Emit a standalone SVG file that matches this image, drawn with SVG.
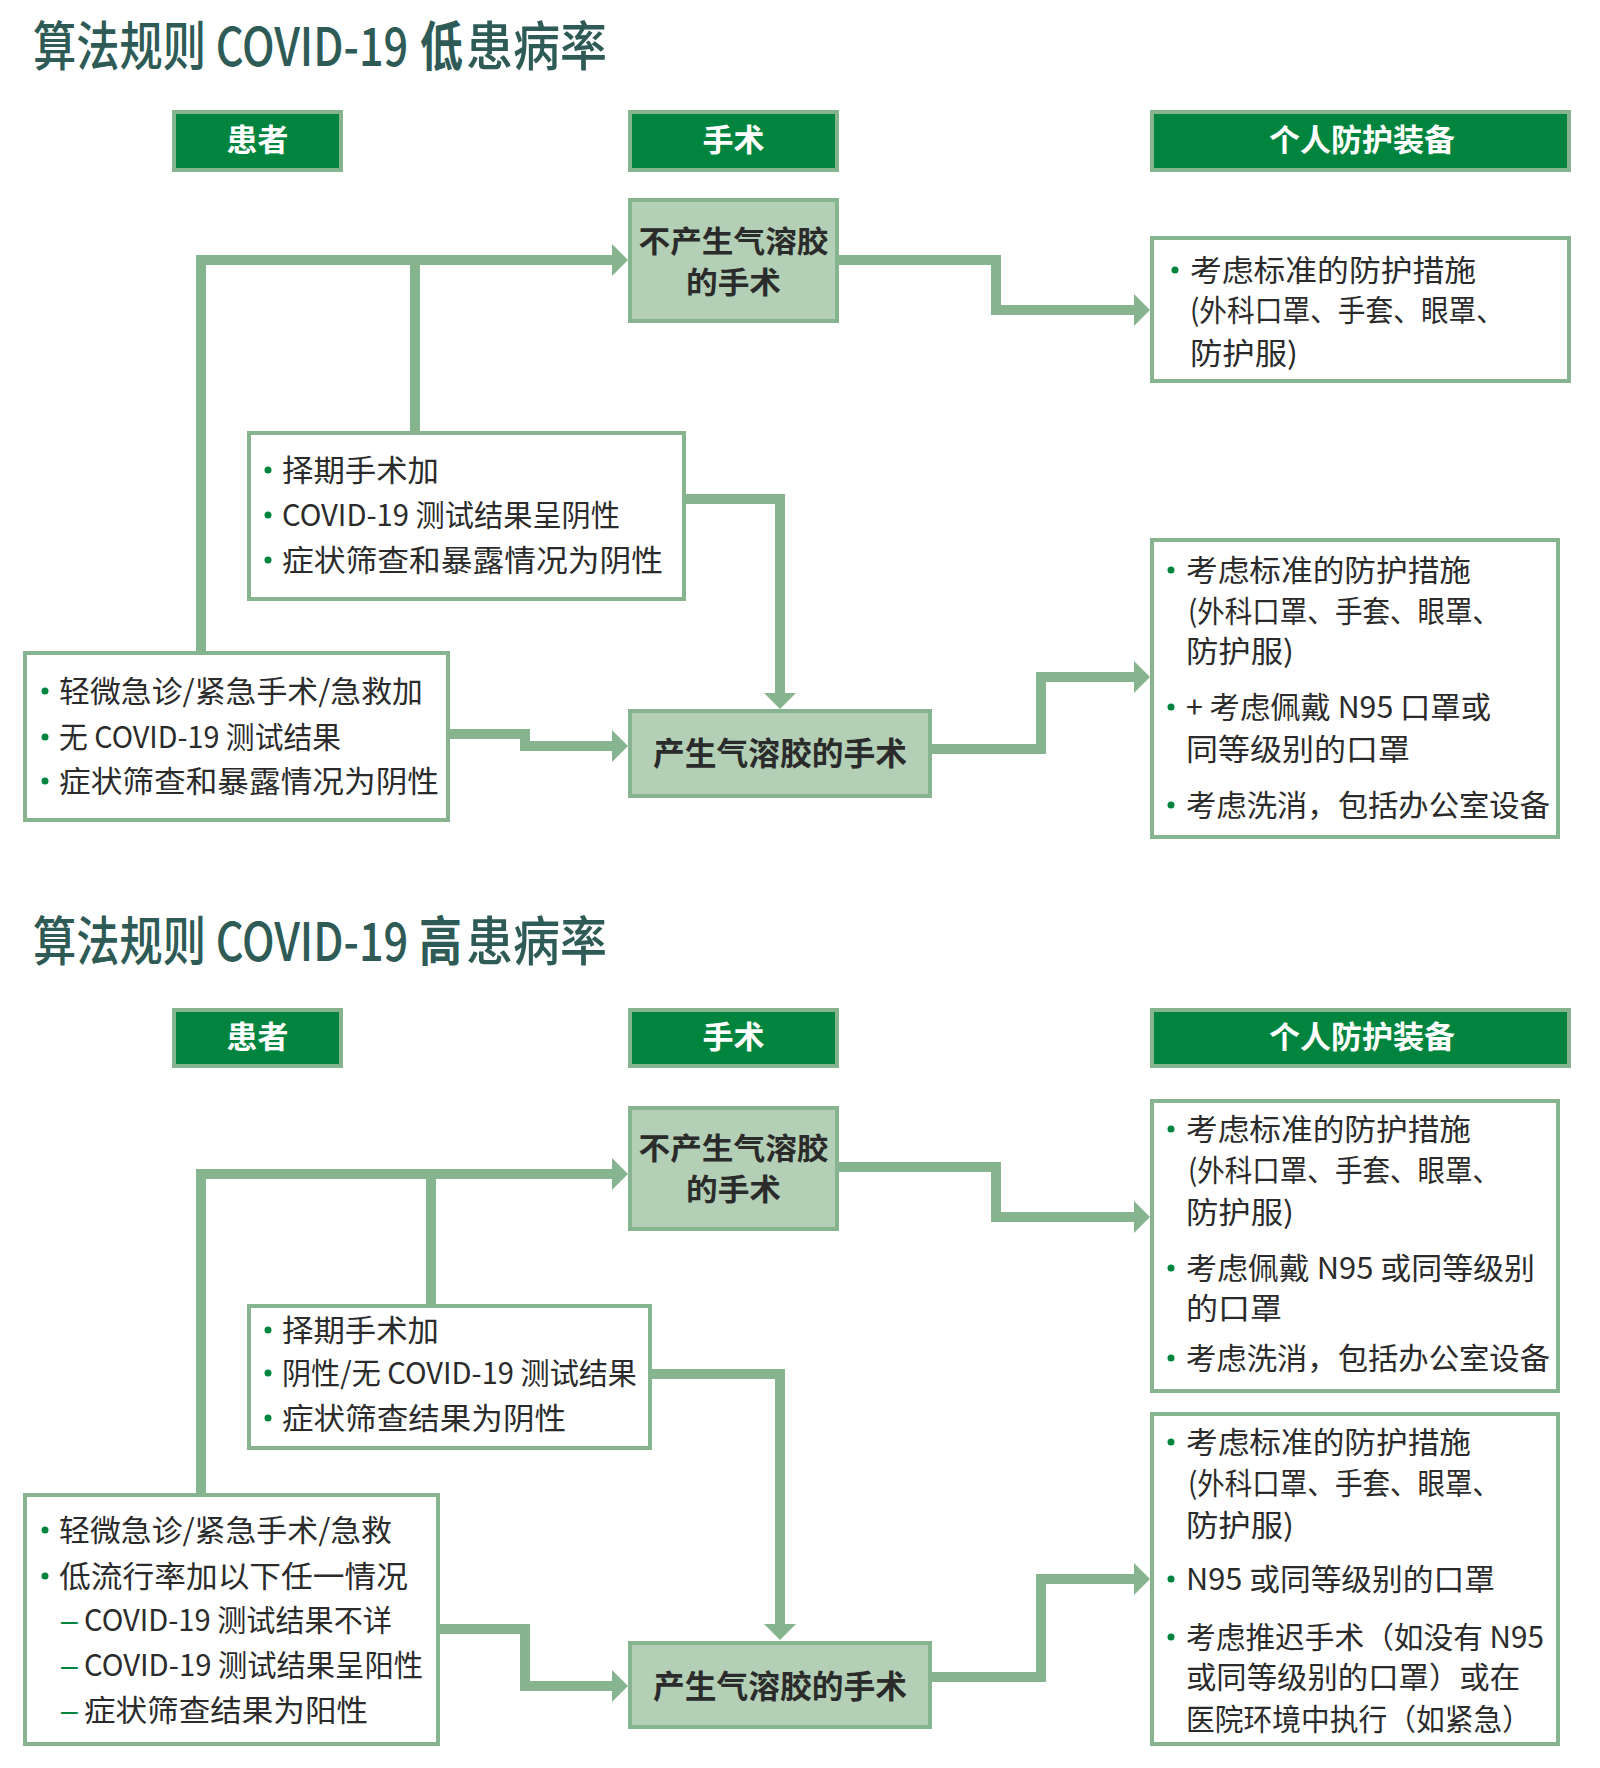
<svg xmlns="http://www.w3.org/2000/svg" width="1600" height="1768" viewBox="0 0 1600 1768">
<defs>
<style>
text{font-family:"Noto Sans CJK SC","Noto Sans",sans-serif}
.title{font-size:53px;font-weight:500;fill:#2e5b56}
.tb{font-weight:700}
.hdr{fill:#00843e;stroke:#86b48f;stroke-width:4}
.proc{fill:#b3cfb5;stroke:#86b48f;stroke-width:4}
.box{fill:#ffffff;stroke:#86b48f;stroke-width:4}
.ht{font-size:31px;font-weight:700;fill:#ffffff;text-anchor:middle}
.pt{font-size:32px;font-weight:700;fill:#2b2b2b;text-anchor:middle}
.pt2{font-size:30px;font-weight:700;fill:#2b2b2b;text-anchor:middle}
.t{font-size:30px;font-weight:400;fill:#2b2b2b}
.dash{font-family:"Liberation Sans",sans-serif;font-size:30px;fill:#00843e}
.b{fill:#00843e}
.conn{fill:none;stroke:#86b48f;stroke-width:10;stroke-linejoin:miter}
</style>
<marker id="ah" viewBox="0 0 16 32" refX="0" refY="16" markerWidth="16" markerHeight="32" markerUnits="userSpaceOnUse" orient="auto">
<path d="M0,0 L16,16 L0,32 Z" fill="#86b48f"/>
</marker>
</defs>
<rect width="1600" height="1768" fill="#ffffff"/>

<!-- Titles -->
<g id="title1">
<text class="title" transform="matrix(0.845 0 0 1 33 66)" x="0" y="0" textLength="444" lengthAdjust="spacingAndGlyphs">算法规则 COVID-19</text>
<text class="title tb" transform="matrix(0.81 0 0 1 420 66)" x="0" y="0" textLength="53" lengthAdjust="spacingAndGlyphs">低</text>
<text class="title" transform="matrix(0.887 0 0 1 466 66)" x="0" y="0" textLength="159" lengthAdjust="spacingAndGlyphs">患病率</text>
</g>
<g id="title2">
<text class="title" transform="matrix(0.845 0 0 1 33 961)" x="0" y="0" textLength="444" lengthAdjust="spacingAndGlyphs">算法规则 COVID-19</text>
<text class="title tb" transform="matrix(0.81 0 0 1 419 961)" x="0" y="0" textLength="53" lengthAdjust="spacingAndGlyphs">高</text>
<text class="title" transform="matrix(0.887 0 0 1 466 961)" x="0" y="0" textLength="159" lengthAdjust="spacingAndGlyphs">患病率</text>
</g>

<!-- Connectors -->
<g id="connectors">
<path class="conn" d="M201,651 V260 H612" marker-end="url(#ah)"/>
<path class="conn" d="M415,431 V260"/>
<path class="conn" d="M686,499 H780 V693" marker-end="url(#ah)"/>
<path class="conn" d="M450,734 H525 V746 H612" marker-end="url(#ah)"/>
<path class="conn" d="M839,260 H996 V310 H1134" marker-end="url(#ah)"/>
<path class="conn" d="M932,749 H1041 V677 H1134" marker-end="url(#ah)"/>

<path class="conn" d="M201,1493 V1174 H612" marker-end="url(#ah)"/>
<path class="conn" d="M431,1304 V1174"/>
<path class="conn" d="M652,1374 H780 V1624" marker-end="url(#ah)"/>
<path class="conn" d="M440,1629 H525 V1686 H612" marker-end="url(#ah)"/>
<path class="conn" d="M839,1167 H996 V1217 H1134" marker-end="url(#ah)"/>
<path class="conn" d="M932,1677 H1041 V1579 H1134" marker-end="url(#ah)"/>
</g>

<!-- ===== Top section ===== -->
<g id="hdr-patient-1">
<rect class="hdr" x="174" y="112" width="167" height="58"/>
<text class="ht" x="257.5" y="151">患者</text>
</g>
<g id="hdr-surgery-1">
<rect class="hdr" x="630" y="112" width="207" height="58"/>
<text class="ht" x="733.5" y="151">手术</text>
</g>
<g id="hdr-ppe-1">
<rect class="hdr" x="1152" y="112" width="417" height="58"/>
<text class="ht" x="1362" y="151">个人防护装备</text>
</g>

<g id="non-aerosol-1">
<rect class="proc" x="630" y="200" width="207" height="121"/>
<text class="pt2" x="733.5" y="252" textLength="190" lengthAdjust="spacingAndGlyphs">不产生气溶胶</text>
<text class="pt2" x="733.5" y="293" textLength="95" lengthAdjust="spacingAndGlyphs">的手术</text>
</g>

<g id="ppe-1">
<rect class="box" x="1152" y="238" width="417" height="143"/>
<circle class="b" cx="1175" cy="270" r="3.5"/>
<text class="t" x="1190" y="281" textLength="286" lengthAdjust="spacingAndGlyphs">考虑标准的防护措施</text>
<text class="t" x="1190" y="321" textLength="314" lengthAdjust="spacingAndGlyphs">(外科口罩、手套、眼罩、</text>
<text class="t" x="1190" y="364" textLength="108" lengthAdjust="spacingAndGlyphs">防护服)</text>
</g>

<g id="elective-1">
<rect class="box" x="249" y="433" width="435" height="166"/>
<circle class="b" cx="268" cy="470" r="3.5"/>
<circle class="b" cx="268" cy="515" r="3.5"/>
<circle class="b" cx="268" cy="560" r="3.5"/>
<text class="t" x="282" y="481" textLength="157" lengthAdjust="spacingAndGlyphs">择期手术加</text>
<text class="t" x="282" y="526" textLength="338" lengthAdjust="spacingAndGlyphs">COVID-19 测试结果呈阴性</text>
<text class="t" x="282" y="571" textLength="381" lengthAdjust="spacingAndGlyphs">症状筛查和暴露情况为阴性</text>
</g>

<g id="urgent-1">
<rect class="box" x="25" y="653" width="423" height="167"/>
<circle class="b" cx="45" cy="691" r="3.5"/>
<circle class="b" cx="45" cy="737" r="3.5"/>
<circle class="b" cx="45" cy="781" r="3.5"/>
<text class="t" x="59" y="702" textLength="364" lengthAdjust="spacingAndGlyphs">轻微急诊/紧急手术/急救加</text>
<text class="t" x="59" y="748" textLength="282" lengthAdjust="spacingAndGlyphs">无 COVID-19 测试结果</text>
<text class="t" x="59" y="792" textLength="380" lengthAdjust="spacingAndGlyphs">症状筛查和暴露情况为阴性</text>
</g>

<g id="aerosol-1">
<rect class="proc" x="630" y="711" width="300" height="85"/>
<text class="pt" x="780" y="765" textLength="254" lengthAdjust="spacingAndGlyphs">产生气溶胶的手术</text>
</g>

<g id="ppe-2">
<rect class="box" x="1152" y="540" width="406" height="297"/>
<circle class="b" cx="1171" cy="570" r="3.5"/>
<circle class="b" cx="1171" cy="707" r="3.5"/>
<circle class="b" cx="1171" cy="805" r="3.5"/>
<text class="t" x="1186" y="581" textLength="285" lengthAdjust="spacingAndGlyphs">考虑标准的防护措施</text>
<text class="t" x="1188" y="622" textLength="312" lengthAdjust="spacingAndGlyphs">(外科口罩、手套、眼罩、</text>
<text class="t" x="1186" y="662" textLength="108" lengthAdjust="spacingAndGlyphs">防护服)</text>
<text class="t" x="1186" y="718" textLength="305" lengthAdjust="spacingAndGlyphs">+ 考虑佩戴 N95 口罩或</text>
<text class="t" x="1186" y="760" textLength="224" lengthAdjust="spacingAndGlyphs">同等级别的口罩</text>
<text class="t" x="1186" y="816" textLength="364" lengthAdjust="spacingAndGlyphs">考虑洗消，包括办公室设备</text>
</g>

<!-- ===== Bottom section ===== -->
<g id="hdr-patient-2">
<rect class="hdr" x="174" y="1010" width="167" height="56"/>
<text class="ht" x="257.5" y="1048">患者</text>
</g>
<g id="hdr-surgery-2">
<rect class="hdr" x="630" y="1010" width="207" height="56"/>
<text class="ht" x="733.5" y="1048">手术</text>
</g>
<g id="hdr-ppe-2">
<rect class="hdr" x="1152" y="1010" width="417" height="56"/>
<text class="ht" x="1362" y="1048">个人防护装备</text>
</g>

<g id="non-aerosol-2">
<rect class="proc" x="630" y="1108" width="207" height="121"/>
<text class="pt2" x="733.5" y="1159" textLength="190" lengthAdjust="spacingAndGlyphs">不产生气溶胶</text>
<text class="pt2" x="733.5" y="1200" textLength="95" lengthAdjust="spacingAndGlyphs">的手术</text>
</g>

<g id="ppe-3">
<rect class="box" x="1152" y="1101" width="406" height="290"/>
<circle class="b" cx="1171" cy="1129" r="3.5"/>
<circle class="b" cx="1171" cy="1268" r="3.5"/>
<circle class="b" cx="1171" cy="1358" r="3.5"/>
<text class="t" x="1186" y="1140" textLength="285" lengthAdjust="spacingAndGlyphs">考虑标准的防护措施</text>
<text class="t" x="1188" y="1181" textLength="312" lengthAdjust="spacingAndGlyphs">(外科口罩、手套、眼罩、</text>
<text class="t" x="1186" y="1223" textLength="108" lengthAdjust="spacingAndGlyphs">防护服)</text>
<text class="t" x="1186" y="1279" textLength="349" lengthAdjust="spacingAndGlyphs">考虑佩戴 N95 或同等级别</text>
<text class="t" x="1186" y="1319" textLength="96" lengthAdjust="spacingAndGlyphs">的口罩</text>
<text class="t" x="1186" y="1369" textLength="364" lengthAdjust="spacingAndGlyphs">考虑洗消，包括办公室设备</text>
</g>

<g id="elective-2">
<rect class="box" x="249" y="1306" width="401" height="142"/>
<circle class="b" cx="268" cy="1330" r="3.5"/>
<circle class="b" cx="268" cy="1373" r="3.5"/>
<circle class="b" cx="268" cy="1418" r="3.5"/>
<text class="t" x="282" y="1341" textLength="157" lengthAdjust="spacingAndGlyphs">择期手术加</text>
<text class="t" x="282" y="1384" textLength="355" lengthAdjust="spacingAndGlyphs">阴性/无 COVID-19 测试结果</text>
<text class="t" x="282" y="1429" textLength="284" lengthAdjust="spacingAndGlyphs">症状筛查结果为阴性</text>
</g>

<g id="urgent-2">
<rect class="box" x="25" y="1495" width="413" height="249"/>
<circle class="b" cx="45" cy="1530" r="3.5"/>
<circle class="b" cx="45" cy="1576" r="3.5"/>
<text class="t" x="59" y="1541" textLength="333" lengthAdjust="spacingAndGlyphs">轻微急诊/紧急手术/急救</text>
<text class="t" x="59" y="1587" textLength="349" lengthAdjust="spacingAndGlyphs">低流行率加以下任一情况</text>
<text class="dash" x="61" y="1631">–</text>
<text class="dash" x="61" y="1676">–</text>
<text class="dash" x="61" y="1721">–</text>
<text class="t" x="84" y="1631" textLength="308" lengthAdjust="spacingAndGlyphs">COVID-19 测试结果不详</text>
<text class="t" x="84" y="1676" textLength="339" lengthAdjust="spacingAndGlyphs">COVID-19 测试结果呈阳性</text>
<text class="t" x="84" y="1721" textLength="284" lengthAdjust="spacingAndGlyphs">症状筛查结果为阳性</text>
</g>

<g id="aerosol-2">
<rect class="proc" x="630" y="1643" width="300" height="84"/>
<text class="pt" x="780" y="1698" textLength="254" lengthAdjust="spacingAndGlyphs">产生气溶胶的手术</text>
</g>

<g id="ppe-4">
<rect class="box" x="1152" y="1414" width="406" height="330"/>
<circle class="b" cx="1171" cy="1442" r="3.5"/>
<circle class="b" cx="1171" cy="1579" r="3.5"/>
<circle class="b" cx="1171" cy="1637" r="3.5"/>
<text class="t" x="1186" y="1453" textLength="285" lengthAdjust="spacingAndGlyphs">考虑标准的防护措施</text>
<text class="t" x="1188" y="1494" textLength="312" lengthAdjust="spacingAndGlyphs">(外科口罩、手套、眼罩、</text>
<text class="t" x="1186" y="1536" textLength="108" lengthAdjust="spacingAndGlyphs">防护服)</text>
<text class="t" x="1186" y="1590" textLength="309" lengthAdjust="spacingAndGlyphs">N95 或同等级别的口罩</text>
<text class="t" x="1186" y="1648" textLength="358" lengthAdjust="spacingAndGlyphs">考虑推迟手术（如没有 N95</text>
<text class="t" x="1186" y="1688" textLength="334" lengthAdjust="spacingAndGlyphs">或同等级别的口罩）或在</text>
<text class="t" x="1186" y="1730" textLength="345" lengthAdjust="spacingAndGlyphs">医院环境中执行（如紧急）</text>
</g>
</svg>
